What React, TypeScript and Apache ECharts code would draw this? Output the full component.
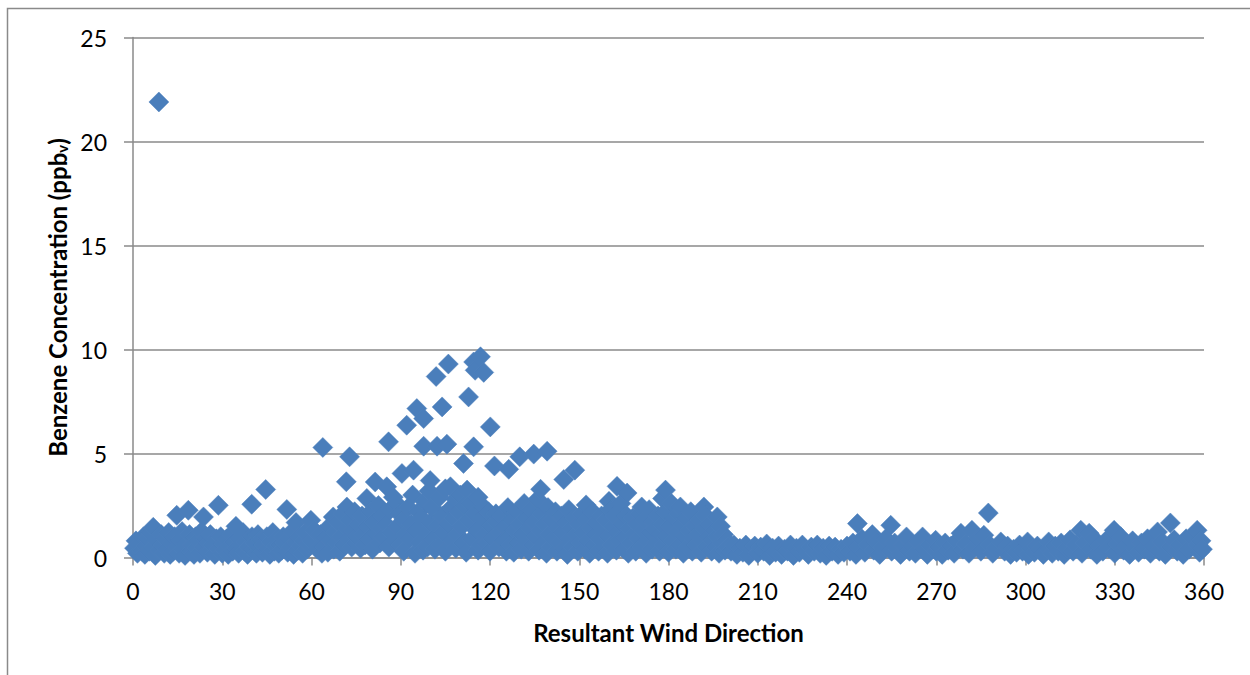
import React, { useEffect, useRef } from "react";
import * as echarts from "echarts";

// Tick labels
const xTicks = [0, 30, 60, 90, 120, 150, 180, 210, 240, 270, 300, 330, 360];
const yTicks = [0, 5, 10, 15, 20, 25];

// [wind direction (deg), benzene (ppbv)]
const sectorNorth: [number, number][] = [
  [0.5, 0.45], [1, 0.8], [1.5, 0.2], [2, 0.6], [3, 0.3], [3.5, 1.0], [4, 0.15], [4.5, 0.55], [5, 0.9], [5.5, 0.3],
  [6, 1.2], [6.8, 1.45], [7, 0.5], [7.5, 0.1], [8, 0.8], [8.7, 21.9], [9, 0.35], [9.5, 1.1], [10, 0.6], [10.5, 0.2],
  [11, 0.9], [11.5, 0.4], [12, 1.2], [12.5, 0.15], [13, 0.7], [13.5, 0.3], [14, 1.0], [14.7, 2.03], [15, 0.5], [15.5, 0.2],
  [16, 0.85], [16.5, 1.25], [17, 0.4], [17.5, 0.1], [18, 0.7], [18.6, 2.27], [19, 1.1], [19.5, 0.3], [20, 0.6], [20.5, 0.15],
  [21, 1.0], [21.5, 0.45], [22, 0.8], [22.5, 0.2], [23, 1.25], [23.7, 1.95], [24, 0.5], [24.5, 0.9], [25, 0.25], [25.5, 0.7],
  [26, 1.1], [26.5, 0.35], [27, 0.6], [27.5, 0.15], [28, 0.9], [28.7, 2.51], [29, 0.4], [29.5, 1.0], [30, 0.2], [30.5, 0.65],
  [31, 0.35], [31.5, 0.9], [32, 0.15], [32.5, 0.55], [33, 1.1], [33.5, 0.3], [34, 0.75], [34.6, 1.5], [35, 0.45], [35.5, 0.2],
  [36, 0.9], [36.5, 0.6], [37, 1.2], [37.5, 0.3], [38, 0.75], [38.5, 0.15], [39, 0.5], [39.9, 2.56], [40, 1.0], [40.5, 0.35],
  [41, 0.7], [41.5, 0.2], [42, 1.1], [42.5, 0.5], [43, 0.85], [43.5, 0.25], [44, 0.6], [44.6, 3.27], [45, 1.0], [45.5, 0.4],
  [46, 0.15], [46.5, 0.75], [47, 1.2], [47.5, 0.3], [48, 0.55], [48.5, 0.9], [49, 0.2], [49.5, 0.6], [50, 0.35], [50.5, 1.0],
  [51, 0.7], [51.7, 2.31], [52, 0.25], [52.5, 0.9], [53, 0.5], [53.5, 1.25], [54, 0.15], [54.8, 1.68], [55, 0.7], [55.5, 0.35],
  [56, 1.0], [56.5, 0.55], [57, 0.2], [57.5, 0.8], [58, 1.2], [58.5, 0.4], [59, 0.65], [59.8, 1.79], [60.2, 0.8], [61, 1.3],
  [62, 0.4], [63, 1.1], [63.5, 0.2], [63.8, 5.29],
];

const sectorEast: [number, number][] = [
  [64.5, 0.5], [65, 1.0], [65.5, 0.25], [66, 1.5], [66.5, 0.8], [67.3, 1.95], [67.5, 0.4], [68, 1.2], [68.5, 0.7], [69, 1.7],
  [69.5, 0.3], [70, 1.0], [70.5, 2.1], [71, 0.6], [71.7, 3.64], [71.9, 2.43], [72, 1.4], [72.5, 0.9], [72.8, 4.84], [73, 1.8],
  [73.5, 0.5], [74, 1.3], [74.5, 2.2], [75, 0.7], [75.3, 1.0], [76, 1.6], [76.5, 0.45], [77, 2.0], [77.5, 1.1], [78, 0.6],
  [78.6, 2.84], [79, 1.5], [79.5, 0.9], [80, 2.2], [80.5, 0.4], [81, 1.7], [81.4, 3.63], [82, 1.1], [82.5, 2.5], [83, 0.7],
  [83.5, 1.4], [84, 2.0], [84.2, 0.99], [85, 1.6], [85.3, 3.4], [85.9, 5.56], [86, 0.5], [86.5, 2.3], [87, 1.2], [87.5, 2.9],
  [88, 0.8], [88.6, 2.6], [89, 1.5], [89.5, 2.1], [90, 0.6], [90.4, 4.04], [91, 1.8], [91, 0.3], [91.5, 1.1], [92, 6.36],
  [92.5, 2.4], [93, 0.9], [93.5, 1.6], [94, 3.0], [94.3, 4.2], [94.8, 0.2], [95, 1.3], [95.4, 7.16], [96, 2.2], [96.5, 0.7],
  [97, 1.9], [97.5, 0.35], [97.7, 6.68], [97.7, 5.35], [98, 2.7], [98.5, 1.2], [99, 0.5], [99.5, 3.2], [99.9, 3.7], [100, 1.7],
  [100.5, 2.4], [101, 0.9], [101.5, 0.4], [101.9, 8.7], [102.2, 5.35], [102.5, 1.5], [103, 2.9], [103.5, 0.6], [103.9, 7.24], [104, 2.0],
  [104.5, 1.2], [105, 3.3], [105, 0.3], [105.5, 5.45], [106, 9.3], [106, 1.6], [106.7, 3.4], [107, 2.4], [107.5, 0.8], [108, 1.9],
  [108.5, 2.8], [108.5, 0.45], [109, 1.1], [109.5, 2.2], [110, 3.0], [110.5, 1.5], [111, 0.7], [111.1, 4.52], [111.5, 2.5], [112, 0.25],
  [112.3, 3.24], [112.8, 7.72], [113, 1.8], [113.5, 2.6], [114, 0.9], [114.5, 5.32], [114.5, 9.4], [115, 9.0], [115, 2.1], [115.5, 1.3],
  [116, 2.9], [116, 0.35], [116.8, 9.65], [117, 0.6], [117.5, 1.9], [117.9, 8.9], [118, 2.4], [118.5, 1.1], [119, 0.67], [119.5, 2.2],
  [120, 0.3], [120.1, 6.28], [120.5, 1.5], [121, 0.9], [121.5, 4.4], [122, 2.1], [122.5, 1.7], [123, 0.5], [123.5, 1.2], [124, 2.0],
  [124.5, 0.8], [125, 1.5],
];

const sectorSouth: [number, number][] = [
  [125.5, 0.3], [126, 2.4], [126.3, 4.24], [126.5, 1.0], [127, 0.6], [127.5, 1.8], [128, 0.25], [128.5, 1.3], [129, 2.2], [129.5, 0.7],
  [130, 4.84], [130, 1.6], [130.5, 0.4], [131, 1.1], [131.5, 2.6], [132, 0.8], [132.5, 1.9], [133, 0.3], [133.5, 1.4], [134, 2.3],
  [134.5, 0.6], [134.7, 4.97], [135, 1.7], [135.5, 1.0], [136, 2.8], [136.5, 0.35], [137, 3.28], [137, 1.3], [137.5, 2.1], [138, 0.7],
  [138.5, 1.6], [139, 0.2], [139.2, 5.11], [139.5, 2.4], [140, 1.1], [140.5, 0.5], [141, 1.8], [141.5, 0.9], [142, 2.2], [142.5, 0.3],
  [143, 1.4], [143.5, 0.7], [144, 2.0], [144.5, 1.2], [144.8, 3.75], [145, 0.4], [145.5, 1.7], [146, 0.15], [146.5, 2.3], [147, 0.9],
  [147.5, 1.4], [148, 0.5], [148.5, 4.2], [148.5, 1.9], [149, 1.1], [149.5, 0.3], [150, 1.6], [150.5, 0.7], [151, 2.1], [151.5, 1.2],
  [152, 0.4], [152.3, 2.53], [152.5, 1.8], [153, 0.8], [153.5, 0.2], [154, 1.4], [154.5, 2.2], [155, 0.6], [155.5, 1.1], [156, 1.7],
  [156.5, 0.3], [157, 0.9], [157.5, 2.0], [158, 1.3], [158.5, 0.5], [159, 1.8], [159.5, 0.2], [160, 2.7], [160, 1.0], [160.5, 2.3],
  [161, 0.6], [161.5, 1.5], [162, 2.0], [162.5, 0.35], [162.7, 3.42], [163, 1.2], [163.5, 0.8], [164, 2.6], [164.5, 1.6], [165, 0.4],
  [165.5, 1.0], [166, 2.0], [166.1, 3.1], [166.5, 0.2], [167, 1.4], [167.5, 0.7], [168, 1.9], [168.5, 1.1], [169, 0.3], [169.5, 1.6],
  [170, 0.9], [170.5, 2.1], [171, 2.43], [171, 0.5], [171.5, 1.3], [172, 1.8], [172.5, 0.2], [173, 0.8], [173.5, 2.3], [174, 1.2],
  [174.5, 0.4], [175, 1.7], [175.6, 1.39], [176, 0.7], [176.5, 2.0], [177, 0.3], [177.5, 1.1], [178, 2.84], [178, 1.6], [178.5, 0.6],
  [179, 3.24], [179, 2.2], [179.5, 1.0], [180, 0.25], [180.5, 1.5], [181, 2.6], [181.5, 0.8], [182, 1.9], [182.5, 0.4], [183, 1.2],
  [183.5, 2.1], [184, 2.43], [184, 0.6], [184.5, 1.6], [185, 0.2], [185.5, 1.0], [186, 1.9], [186.5, 0.5], [187, 1.3], [187.5, 2.2],
  [188, 0.3], [188.5, 0.9], [189, 1.5], [189.5, 0.6], [190, 1.1], [190.5, 1.8], [191, 0.25], [191.5, 0.8], [191.9, 2.43], [192, 1.4],
  [192.5, 2.0], [193, 0.5], [193.5, 1.0], [194, 1.6], [194.5, 0.3], [195, 0.8], [195.5, 1.3], [196, 0.5], [196.4, 1.95], [196.5, 1.0],
  [197, 0.2], [197.5, 1.5], [198, 0.7], [198.5, 1.1], [199, 0.35], [199.5, 0.8], [200, 0.5],
];

const sectorSouthWest: [number, number][] = [
  [201, 0.3], [202, 0.6], [203, 0.15], [204, 0.45], [205, 0.25], [206, 0.6], [207, 0.1], [208, 0.4], [209, 0.55], [210, 0.2],
  [211, 0.5], [212, 0.3], [213, 0.65], [214, 0.1], [215, 0.45], [216, 0.25], [217, 0.55], [218, 0.15], [219, 0.4], [220, 0.3],
  [221, 0.6], [222, 0.1], [223, 0.45], [224, 0.25], [225, 0.6], [226, 0.35], [227, 0.15], [228, 0.5], [229, 0.3], [230, 0.6],
  [231, 0.2], [232, 0.45], [233, 0.1], [234, 0.55], [235, 0.3], [236, 0.5], [237, 0.15], [238, 0.4], [239, 0.25], [240, 0.55],
];

const sectorWest: [number, number][] = [
  [241, 0.3], [242, 0.7], [243, 0.15], [243.5, 1.63], [244, 0.5], [245, 0.9], [246, 0.25], [247, 0.6], [248.5, 1.1], [249, 0.35],
  [250, 0.75], [251, 0.15], [252, 0.5], [253, 0.9], [254.7, 1.55], [255, 0.3], [256, 0.7], [257, 0.45], [258, 0.15], [259, 0.6],
  [260, 0.99], [261, 0.3], [262, 0.55], [263, 0.2], [264, 0.75], [265.4, 0.99], [266, 0.4], [267, 0.15], [268, 0.6], [269.8, 0.83],
  [270, 0.3], [271, 0.5], [272, 0.15], [273, 0.7], [274, 0.35], [275, 0.55], [276, 0.2], [277, 0.8], [278.3, 1.17], [279, 0.4],
  [280, 0.65], [281, 0.2], [282, 1.31], [283, 0.5], [284, 0.9], [285, 0.3], [286, 1.07], [287.5, 2.14], [288, 0.6], [289, 0.2],
  [290, 0.45], [291.7, 0.75], [293, 0.3], [294, 0.55], [295, 0.15], [296, 0.4], [297, 0.25], [298, 0.6], [299, 0.3], [300.7, 0.75],
];

const sectorNorthWest: [number, number][] = [
  [301, 0.15], [302, 0.45], [303, 0.25], [304, 0.55], [305, 0.35], [306, 0.15], [307.8, 0.75], [308, 0.4], [309, 0.2], [310, 0.55],
  [311, 0.3], [312, 0.7], [313, 0.15], [314, 0.45], [315, 0.85], [316, 0.3], [317, 0.6], [318.6, 1.31], [319, 0.2], [320, 0.7],
  [321.4, 1.17], [322, 0.4], [323, 0.9], [324, 0.15], [325, 0.55], [326, 0.3], [327, 0.8], [328, 0.45], [329.8, 1.31], [330, 0.2],
  [331, 0.65], [332, 1.0], [333, 0.35], [334, 0.55], [335, 0.15], [336, 0.8], [337, 0.45], [338, 0.25], [339, 0.7], [340, 0.4],
  [341, 0.9], [342, 0.2], [343, 0.55], [344.4, 1.23], [345, 0.3], [346, 0.75], [347, 0.15], [348.7, 1.66], [349, 0.5], [350, 0.85],
  [351, 0.3], [352, 0.6], [353, 0.15], [354, 0.9], [355, 0.4], [356, 1.0], [357.7, 1.31], [358, 0.6], [358.5, 0.25], [359, 0.8],
  [359.5, 0.4],
];

const FONT = "Lato, 'Liberation Sans', sans-serif";
const GRID_COLOR = "#8a8a8a";
const MARKER_COLOR = "#4a7ebb";

export default function App() {
  const ref = useRef<HTMLDivElement>(null);

  useEffect(() => {
    if (!ref.current) return;
    const chart = echarts.init(ref.current, undefined, { renderer: "svg" });
    const data = [
      ...sectorNorth,
      ...sectorEast,
      ...sectorSouth,
      ...sectorSouthWest,
      ...sectorWest,
      ...sectorNorthWest,
    ];
    chart.setOption({
      animation: false,
      backgroundColor: "#ffffff",
      grid: { left: 133, right: 46, top: 37.5, bottom: 117.5, containLabel: false },
      graphic: [
        {
          type: "rect",
          shape: { x: 7.5, y: 8.5, width: 1300, height: 700 },
          style: { fill: "none", stroke: GRID_COLOR, lineWidth: 1.5 },
          silent: true,
        },
      ],
      xAxis: {
        type: "value",
        min: xTicks[0],
        max: xTicks[xTicks.length - 1],
        interval: 30,
        name: "Resultant Wind Direction",
        nameLocation: "middle",
        nameGap: 63,
        nameTextStyle: { fontFamily: FONT, fontSize: 24, fontWeight: "bold", color: "#000" },
        axisLine: { show: true, lineStyle: { color: GRID_COLOR, width: 1.5 } },
        axisTick: { show: true, length: 8, lineStyle: { color: GRID_COLOR, width: 1.5 } },
        axisLabel: { fontFamily: FONT, fontSize: 23, color: "#000", margin: 22 },
        splitLine: { show: false },
      },
      yAxis: {
        type: "value",
        min: yTicks[0],
        max: yTicks[yTicks.length - 1],
        interval: 5,
        name: "Benzene Concentration (ppb{sub|v})",
        nameLocation: "middle",
        nameGap: 62,
        nameRotate: 90,
        nameTextStyle: {
          fontFamily: FONT,
          fontSize: 24,
          fontWeight: "bold",
          color: "#000",
          rich: {
            sub: { fontFamily: FONT, fontSize: 15, fontWeight: "bold", color: "#000", lineHeight: 9, verticalAlign: "bottom" },
          },
        },
        axisLine: { show: true, lineStyle: { color: GRID_COLOR, width: 1.5 } },
        axisTick: { show: true, length: 9, lineStyle: { color: GRID_COLOR, width: 1.5 } },
        axisLabel: { fontFamily: FONT, fontSize: 23, color: "#000", margin: 26 },
        splitLine: { show: true, lineStyle: { color: GRID_COLOR, width: 1.5 } },
      },
      series: [
        {
          type: "scatter",
          symbol: "diamond",
          symbolSize: 20,
          data,
          itemStyle: { color: MARKER_COLOR, borderColor: "#4f81bd", borderWidth: 0.5, opacity: 1 },
        },
      ],
    });
    return () => chart.dispose();
  }, []);

  return (
    <div
      ref={ref}
      style={{ position: "fixed", left: 0, top: 0, width: 1250, height: 675, background: "#fff" }}
    />
  );
}
